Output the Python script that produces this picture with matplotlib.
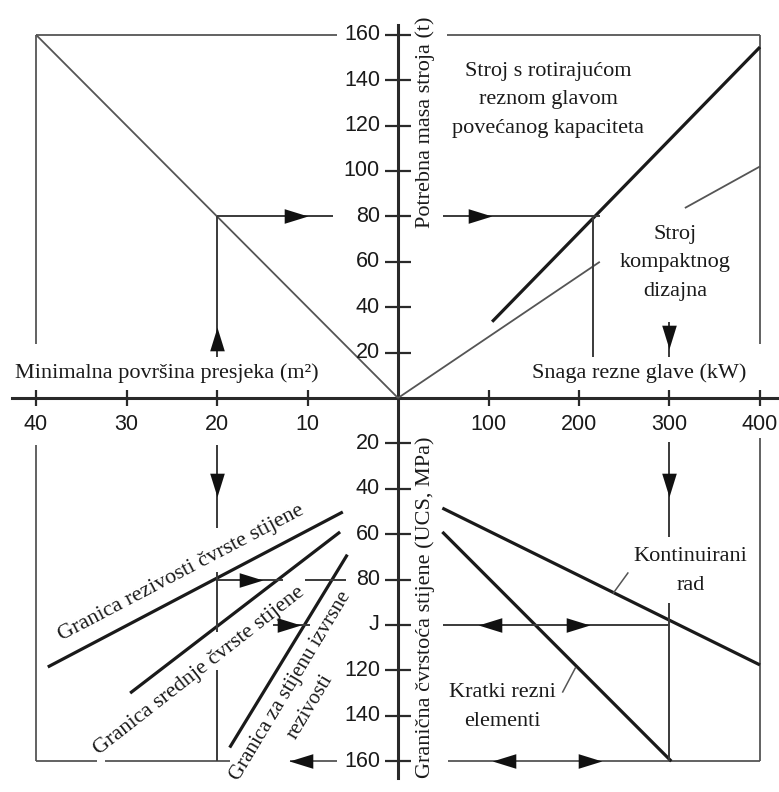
import matplotlib
import matplotlib.pyplot as plt
import numpy as np

matplotlib.use('Agg')

# coordinate system: u < 0 -> area (m2, negative), u > 0 -> power / 10 (kW)
# v > 0 -> mass (t), v < 0 -> UCS (MPa, negative)

area_ticks = [40, 30, 20, 10]
power_ticks = [100, 200, 300, 400]
mass_ticks = [20, 40, 60, 80, 100, 120, 140, 160]
ucs_ticks = [20, 40, 60, 80, 100, 120, 140, 160]
ucs_labels = ['20', '40', '60', '80', 'J', '120', '140', '160']

# quadrant curves (area m2 / power kW, mass t / UCS MPa)
diag_area = [40, 0]
diag_mass = [160, 0]
big_kw = [104, 400]
big_t = [33.6, 154.6]
compact_kw_a = [0, 223]
compact_t_a = [0, 60]
compact_kw_b = [317, 400]
compact_t_b = [83.7, 102]
cont_kw = [49, 400]
cont_ucs = [48.5, 117.6]
short_kw = [49, 302]
short_ucs = [59, 160]
hard_area = [38.7, 6.1]
hard_ucs = [118.5, 50.2]
medium_area = [29.6, 6.4]
medium_ucs = [130, 59]
excel_area = [18.6, 5.6]
excel_ucs = [154, 69]

SERIF = 'Liberation Serif'
SANS = 'Liberation Sans'
TXT = '#1a1a1a'
FS = 16

fig = plt.figure(figsize=(7.79, 7.92), dpi=100)
ax = fig.add_axes([0, 0, 1, 1])
ax.set_xlim(-43.98, 42.10)
ax.set_ylim(-173.57, 175.33)
ax.axis('off')


def A(a):
    return -np.asarray(a, dtype=float)


def P(kw):
    return np.asarray(kw, dtype=float) / 10.0


def U(mpa):
    return -np.asarray(mpa, dtype=float)


thin = dict(color='#555555', lw=1.3, solid_capstyle='butt')
path = dict(color='#3a3a3a', lw=1.4, solid_capstyle='butt')
thick = dict(color='#1a1a1a', lw=2.3, solid_capstyle='butt')

# main axes
ax.plot([-42.65, 42.1], [0, 0], color='#2a2a2a', lw=2.2)
ax.plot([0, 0], [164.3, -167.4], color='#2a2a2a', lw=2.2)

# ticks
xt = list(A(area_ticks)) + list(P(power_ticks))
ax.plot(xt, [0] * len(xt), ls='none', marker='|', ms=12, mew=1.6, color='#2a2a2a')
yt = list(mass_ticks) + list(U(ucs_ticks))
ax.plot([0] * len(yt), yt, ls='none', marker='_', ms=19, mew=1.6, color='#2a2a2a')

for a in area_ticks:
    ax.text(-a, -11.5, str(a), ha='center', va='center', fontsize=15.5,
            family=SANS, color=TXT)
for k in power_ticks:
    ax.text(k / 10, -11.5, str(k), ha='center', va='center', fontsize=15.5,
            family=SANS, color=TXT)
for m in mass_ticks:
    ax.text(-2.0, m, str(m), ha='right', va='center', fontsize=15.5,
            family=SANS, color=TXT)
for m, lab in zip(ucs_ticks, ucs_labels):
    ax.text(-2.0, -m, lab, ha='right', va='center', fontsize=15.5,
            family=SANS, color=TXT)

# frames
ax.plot([-40, -40], [24, 160], **thin)
ax.plot([-40, -6.7], [160, 160], **thin)
ax.plot([5.4, 40], [160, 160], **thin)
ax.plot([40, 40], [24, 160], **thin)
ax.plot([40, 40], [-17.6, -160], **thin)
ax.plot([-40, -40], [-20.7, -160], **thin)
ax.plot([-40, -33.3], [-160, -160], **thin)
ax.plot([-32.4, -18.6], [-160, -160], **thin)
ax.plot([-11.9, -6.7], [-160, -160], **thin)
ax.plot([5.5, 40], [-160, -160], **thin)

# quadrant relations
ax.plot(A(diag_area), diag_mass, **thin)
ax.plot(P(big_kw), big_t, **thick)
ax.plot(P(compact_kw_a), compact_t_a, **thin)
ax.plot(P(compact_kw_b), compact_t_b, **thin)
ax.plot(P(cont_kw), U(cont_ucs), **thick)
ax.plot(P(short_kw), U(short_ucs), **thick)
ax.plot(A(hard_area), U(hard_ucs), **thick)
ax.plot(A(medium_area), U(medium_ucs), **thick)
ax.plot(A(excel_area), U(excel_ucs), **thick)

# example path
ax.plot([-20, -20], [18, 80], **path)
ax.plot([-20, -7.2], [80, 80], **path)
ax.plot([5.0, 22.3], [80, 80], **path)
ax.plot([21.5, 21.5], [80, 18], **path)
ax.plot([30, 30], [33.5, 18], **path)
ax.plot([30, 30], [-19.4, -61.2], **path)
ax.plot([5.0, 30], [-100, -100], **path)
ax.plot([30, 30], [-90.3, -160], **path)
ax.plot([-20, -20], [-20.7, -57.3], **path)
ax.plot([-20, -20], [-76.7, -103], **path)
ax.plot([-20, -20], [-120, -160], **path)
ax.plot([-20, -12.7], [-80, -80], **path)
ax.plot([-10.3, -5.7], [-80, -80], **path)
ax.plot([-13.8, -9.7], [-100, -100], **path)

# leaders
ax.plot([23.8, 25.4], [-85.9, -77.1], color='#555555', lw=1.1)
ax.plot([18.2, 19.6], [-129.5, -118.9], color='#555555', lw=1.1)

# arrowheads
arrow_u = [-20, -11.3, 9.1, 30, 30, 10.2, 19.9, 11.7, 21.2, -20, -16.2, -12.1, -10.7]
arrow_v = [26, 80, 80, 27, -38.3, -100, -100, -160, -160, -38.3, -80, -100, -160]
arrow_dir = [90, 0, 0, 270, 270, 180, 0, 180, 0, 270, 0, 0, 180]

base = np.array([[-1, -0.62], [1, 0], [-1, 0.62], [-1, -0.62]])
for x, y, d in zip(arrow_u, arrow_v, arrow_dir):
    t = np.deg2rad(d)
    rot = np.array([[np.cos(t), -np.sin(t)], [np.sin(t), np.cos(t)]])
    verts = base @ rot.T
    ax.plot(x, y, ls='none', marker=verts, ms=17, color='#111111', mew=0)

# labels
ax.text(-25.5, 11.0, 'Minimalna površina presjeka (m²)', ha='center', va='center',
        fontsize=FS, family=SERIF, color=TXT)
ax.text(3.0, 121.6, 'Potrebna masa stroja (t)', ha='center', va='center',
        rotation=90, fontsize=FS, family=SERIF, color=TXT)
ax.text(16.6, 131.3, 'Stroj s rotirajućom\nreznom glavom\npovećanog kapaciteta',
        ha='center', va='center', linespacing=1.7, fontsize=FS, family=SERIF,
        color=TXT)
ax.text(30.6, 59.5, 'Stroj\nkompaktnog\ndizajna', ha='center', va='center',
        linespacing=1.7, fontsize=FS, family=SERIF, color=TXT)
ax.text(26.6, 11.0, 'Snaga rezne glave (kW)', ha='center', va='center',
        fontsize=FS, family=SERIF, color=TXT)
ax.text(3.0, -92.1, 'Granična čvrstoća stijene (UCS, MPa)', ha='center', va='center',
        rotation=90, fontsize=FS, family=SERIF, color=TXT)
ax.text(32.3, -76.2, 'Kontinuirani\nrad', ha='center', va='center',
        linespacing=1.7, fontsize=FS, family=SERIF, color=TXT)
ax.text(11.5, -136.3, 'Kratki rezni\nelementi', ha='center', va='center',
        linespacing=1.7, fontsize=FS, family=SERIF, color=TXT)
ax.text(-23.9, -77.1, 'Granica rezivosti čvrste stijene', ha='center', va='center',
        rotation=27.6, rotation_mode='anchor', fontsize=FS, family=SERIF, color=TXT)
ax.text(-21.9, -120.3, 'Granica srednje čvrste stijene', ha='center', va='center',
        rotation=38, rotation_mode='anchor', fontsize=FS, family=SERIF, color=TXT)
ax.text(-11.9, -126.9, 'Granica za stijenu izvrsne', ha='center', va='center',
        rotation=59, rotation_mode='anchor', fontsize=15, family=SERIF, color=TXT)
ax.text(-9.7, -136.1, 'rezivosti', ha='center', va='center',
        rotation=59, rotation_mode='anchor', fontsize=15, family=SERIF, color=TXT)

fig.savefig('out.png', dpi=100, facecolor='white')
